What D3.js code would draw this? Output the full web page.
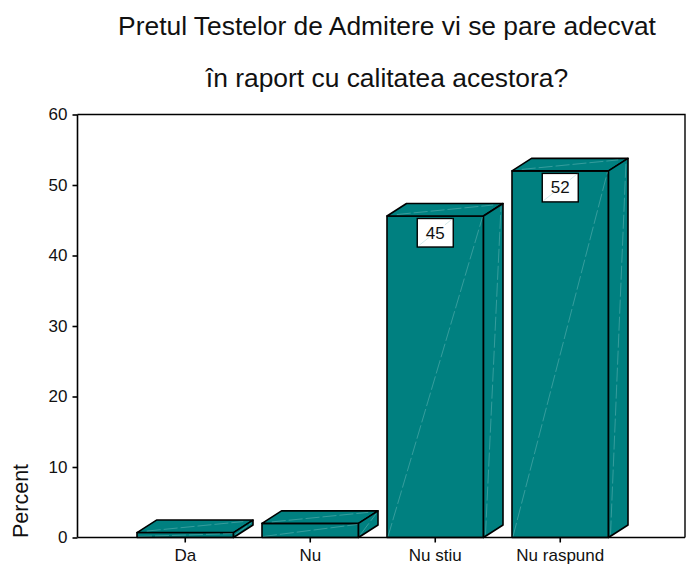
<!DOCTYPE html>
<html>
<head>
<script src="https://d3js.org/d3.v7.min.js"></script>
<style>
body { margin: 0; background: #fff; }
text { font-family: "Liberation Sans", Arial, sans-serif; fill: #111; }
.tick text { font-size: 17px; }
.tick line, .domain { stroke: #000; stroke-width: 1.6; }
.face { fill: #008080; stroke: #000; stroke-width: 1.6; stroke-linejoin: round; }
.sheen { stroke: #8cc8c8; stroke-width: 0.6; stroke-opacity: 0.65; stroke-dasharray: 14 3; fill: none; }
</style>
</head>
<body>
<svg width="686" height="565"></svg>
<script>
var categories = ["Da", "Nu", "Nu stiu", "Nu raspund"];
var values = [0.7, 2, 45.6, 52];
var barLabels = [null, null, "45", "52"];
var yTicks = [0, 10, 20, 30, 40, 50, 60];
var titleLines = ["Pretul Testelor de Admitere vi se pare adecvat", "în raport cu calitatea acestora?"];

var svg = d3.select("svg");
var plotLeft = 77.5, plotRight = 685, plotTop = 114.5, plotBottom = 537.5;
var depthX = 19.5, depthY = 12.5;

var x = d3.scaleBand().domain(categories).range([137, 608.5]).paddingInner(0.228).paddingOuter(0);
var y = d3.scaleLinear().domain([0, 60]).range([plotBottom, plotTop]);

var bars = svg.append("g").selectAll("g").data(categories).enter().append("g");

bars.each(function(c, i) {
    var g = d3.select(this);
    var x0 = x(c), x1 = x0 + x.bandwidth(), yt = y(values[i]);
    // front, top and side of the box
    g.append("polygon").attr("class", "face")
        .attr("points", [[x0, yt], [x1, yt], [x1, plotBottom], [x0, plotBottom]].join(" "));
    g.append("polygon").attr("class", "face")
        .attr("points", [[x0, yt], [x0 + depthX, yt - depthY], [x1 + depthX, yt - depthY], [x1, yt]].join(" "));
    g.append("polygon").attr("class", "face")
        .attr("points", [[x1, yt], [x1 + depthX, yt - depthY], [x1 + depthX, plotBottom - depthY], [x1, plotBottom]].join(" "));
    // thin light diagonals
    g.append("line").attr("class", "sheen").attr("x1", x0 + 1).attr("y1", plotBottom - 1).attr("x2", x1 - 1).attr("y2", yt + 1);
    g.append("line").attr("class", "sheen").attr("x1", x0 + depthX / 2).attr("y1", yt - 1.5).attr("x2", x1 + depthX / 2).attr("y2", yt - depthY + 1.5);
    g.append("line").attr("class", "sheen").attr("x1", x1 + 2).attr("y1", plotBottom - 3).attr("x2", x1 + depthX - 2).attr("y2", yt - depthY + 3);

    if (barLabels[i]) {
        var cx = x0 + x.bandwidth() / 2;
        g.append("rect").attr("x", cx - 18).attr("y", yt + 2.5).attr("width", 36).attr("height", 28.5)
            .attr("fill", "#fff").attr("stroke", "#000").attr("stroke-width", 1.4);
        g.append("line").attr("class", "sheen").attr("x1", cx - 17).attr("y1", yt + 30).attr("x2", cx + 17).attr("y2", yt + 3);
        g.append("text").attr("x", cx).attr("y", yt + 22.5).attr("text-anchor", "middle")
            .style("font-size", "17px").text(barLabels[i]);
    }
});

svg.append("g").attr("transform", "translate(0," + plotBottom + ")")
    .call(d3.axisBottom(x).tickSize(5).tickPadding(6))
    .call(g => g.select(".domain").attr("d", "M" + plotLeft + ",0H" + plotRight));

svg.append("g").attr("transform", "translate(" + plotLeft + ",0)")
    .call(d3.axisLeft(y).tickValues(yTicks).tickSize(5).tickPadding(5))
    .call(g => g.select(".domain").attr("d", "M0," + plotTop + "V" + plotBottom));

// frame top and right
svg.append("path").attr("d", "M" + plotLeft + "," + plotTop + "H" + plotRight + "V" + plotBottom)
    .attr("fill", "none").attr("stroke", "#000").attr("stroke-width", 1.4);

svg.selectAll(".title").data(titleLines).enter().append("text").attr("class", "title")
    .attr("x", 387).attr("y", (d, i) => 35 + i * 52).attr("text-anchor", "middle")
    .style("font-size", "26.4px").text(d => d);

svg.append("text").attr("transform", "translate(28,538) rotate(-90)")
    .style("font-size", "21.5px").text("Percent");
</script>
</body>
</html>
